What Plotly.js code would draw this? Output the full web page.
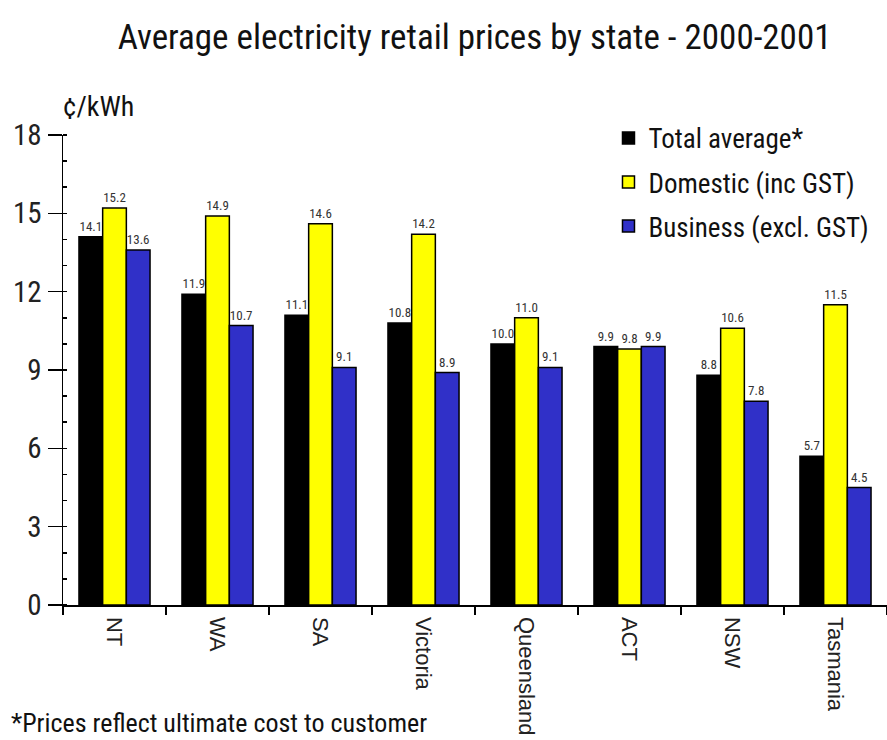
<!DOCTYPE html>
<html>
<head>
<meta charset="utf-8">
<script src="https://cdn.plot.ly/plotly-3.0.1.min.js"></script>
<style>html,body{margin:0;padding:0;background:#fff;}#chart{width:887px;height:740px;}</style>
</head>
<body>
<div id="chart"></div>
<script>
const states = ["NT", "WA", "SA", "Victoria", "Queensland", "ACT", "NSW", "Tasmania"];
const totalAverage = [14.1, 11.9, 11.1, 10.8, 10.0, 9.9, 8.8, 5.7];
const domestic = [15.2, 14.9, 14.6, 14.2, 11.0, 9.8, 10.6, 11.5];
const business = [13.6, 10.7, 9.1, 8.9, 9.1, 9.9, 7.8, 4.5];
const seriesNames = ["Total average*", "Domestic (inc GST)", "Business (excl. GST)"];
const yTicks = [0, 3, 6, 9, 12, 15, 18];

const narrow = "'Liberation Sans Narrow', 'Arial Narrow', 'Roboto Condensed', Roboto, sans-serif";
const colors = ["#000000", "#ffff00", "#3030c8"];
const data = [totalAverage, domestic, business].map((vals, i) => ({
  type: "bar",
  name: seriesNames[i],
  x: states,
  y: vals,
  text: vals.map(v => v.toFixed(1)),
  textposition: "outside",
  constraintext: "none",
  cliponaxis: false,
  textfont: {family: narrow, size: 13, color: "#333"},
  marker: {color: colors[i], line: {color: "#000", width: 1.5}},
  legendgroup: "g" + i,
  hoverinfo: "x+y"
}));

const layout = {
  width: 887, height: 740,
  margin: {l: 63, r: 0, t: 135, b: 135},
  paper_bgcolor: "#fff", plot_bgcolor: "#fff",
  barmode: "group",
  bargap: 0.31,
  bargroupgap: 0,
  title: {text: "Average electricity retail prices by state - 2000-2001",
          font: {family: narrow, size: 35, color: "#111"},
          x: 0.535, xanchor: "center", y: 0.95, yanchor: "middle"},
  xaxis: {
    type: "category",
    showline: true, linecolor: "#000", linewidth: 1.5,
    ticks: "outside", tickson: "boundaries", ticklen: 8, tickcolor: "#000", tickwidth: 1.5,
    tickangle: 90, ticklabelstandoff: 6,
    tickfont: {family: "'Liberation Sans', Arial, sans-serif", size: 22, color: "#222"},
    showgrid: false, zeroline: false
  },
  yaxis: {
    range: [0, 18], tickvals: yTicks, ticktext: yTicks.map(String),
    showline: true, linecolor: "#000", linewidth: 1.5,
    ticks: "outside", ticklen: 14, tickcolor: "#000", tickwidth: 1.5,
    tickfont: {family: narrow, size: 29, color: "#222"},
    minor: {dtick: 1, ticks: "inside", ticklen: 4, tickcolor: "#000", tickwidth: 1.5, showgrid: false},
    showgrid: false, zeroline: false
  },
  showlegend: true,
  legend: {
    x: 0.662, y: 1.045, xanchor: "left", yanchor: "top",
    font: {family: narrow, size: 27, color: "#111"},
    tracegroupgap: 6, itemwidth: 30,
    bgcolor: "rgba(0,0,0,0)"
  },
  annotations: [
    {text: "¢/kWh", xref: "paper", yref: "paper", x: -0.002, y: 1.06, xanchor: "left", yanchor: "middle",
     showarrow: false, font: {family: narrow, size: 28, color: "#111"}},
    {text: "*Prices reflect ultimate cost to customer", xref: "paper", yref: "paper",
     x: -0.065, y: -0.25, xanchor: "left", yanchor: "middle",
     showarrow: false, font: {family: narrow, size: 26, color: "#111"}}
  ]
};

Plotly.newPlot("chart", data, layout, {displayModeBar: false, staticPlot: true});
</script>
</body>
</html>
